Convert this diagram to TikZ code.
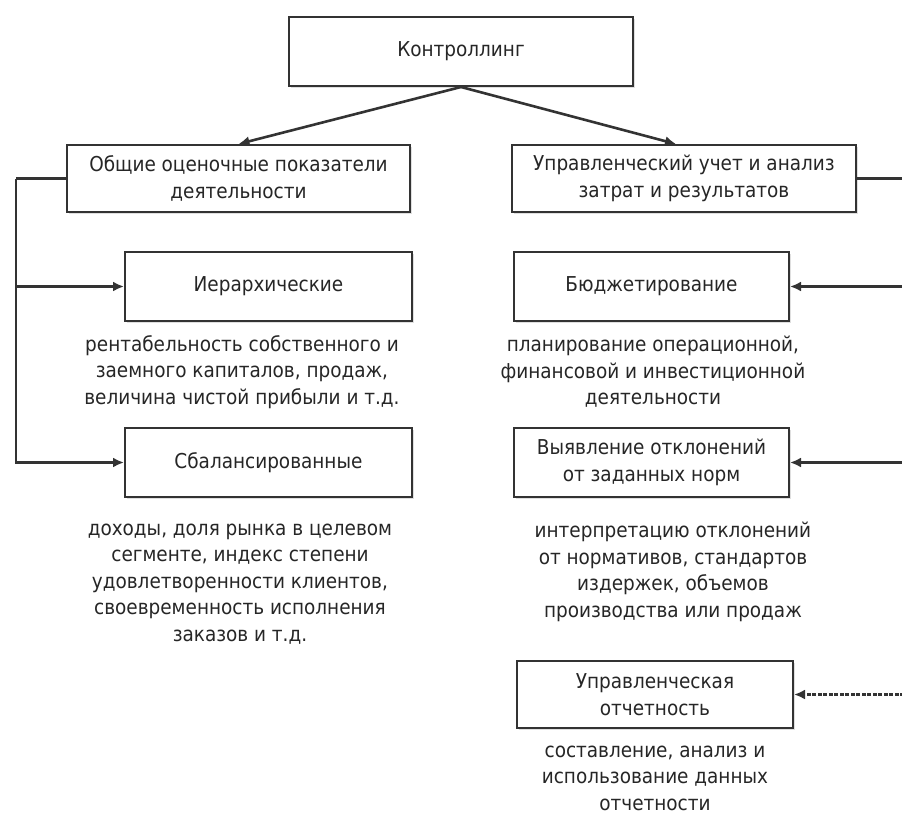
\documentclass[tikz,border=0pt]{standalone}
\usepackage{fontspec}
\setmainfont{DejaVu Sans Condensed}
\usepackage{tikz}
\usetikzlibrary{arrows.meta,shadows}

\begin{document}
\begin{tikzpicture}[x=1pt,y=-1pt]
  \tikzstyle{every node}=[font=\fontsize{20.5}{26.5}\selectfont, text=black!85, align=center]
  \tikzstyle{block}=[draw=black!80, line width=2pt, fill=white, inner sep=2pt,
    drop shadow={opacity=0.25, shadow xshift=2pt, shadow yshift=-2pt}]
  \useasboundingbox (0,0) rectangle (902,819);

  % Specification of nodes (position, etc.)
  \node[block, minimum width=344pt, minimum height=69pt] (Ctrl) at (461,51.5) {Контроллинг};
  \node[block, minimum width=343pt, minimum height=67pt] (General) at (238.5,178.5) {Общие оценочные показатели\\деятельности};
  \node[block, minimum width=344pt, minimum height=67pt] (Mgmt) at (684,178.5) {Управленческий учет и анализ\\затрат и результатов};
  \node[block, minimum width=287pt, minimum height=69pt] (Hier) at (268.5,286.5) {Иерархические};
  \node[block, minimum width=275pt, minimum height=69pt] (Budget) at (651.5,286.5) {Бюджетирование};
  \node[block, minimum width=287pt, minimum height=69pt] (Balanced) at (268.5,462.5) {Сбалансированные};
  \node[block, minimum width=275pt, minimum height=69pt] (Deviation) at (651.5,462.5) {Выявление отклонений\\от заданных норм};
  \node[block, minimum width=276pt, minimum height=67pt] (Report) at (655,694.5) {Управленческая\\отчетность};

  % descriptions under the boxes
  \node (HierText) at (242,372) {рентабельность собственного и\\заемного капиталов, продаж,\\величина чистой прибыли и т.д.};
  \node (BudgetText) at (653,372) {планирование операционной,\\финансовой и инвестиционной\\деятельности};
  \node (BalancedText) at (240,584) {доходы, доля рынка в целевом\\сегменте, индекс степени\\удовлетворенности клиентов,\\своевременность исполнения\\заказов и т.д.};
  \node (DeviationText) at (673,572) {интерпретацию отклонений\\от нормативов, стандартов\\издержек, объемов\\производства или продаж};
  \node (ReportText) at (655,778) {составление, анализ и\\использование данных\\отчетности};

  \coordinate (Left) at (16,178.5);
  \coordinate (Right) at (905,178.5);

  \begin{scope}[draw=black!80, line width=2.6pt, -{Latex[length=11pt,width=10pt]}]
    \draw (Ctrl.south) to (General.north);
    \draw (Ctrl.south) to ([xshift=-8pt]Mgmt.north);
    \draw[-] (General.west) -- (Left);
    \draw (Left) |- (Hier.west);
    \draw (Left) |- (Balanced.west);
    \draw[-] (Mgmt.east) -- (Right);
    \draw (Right) |- (Budget.east);
    \draw (Right) |- (Deviation.east);
    \draw[dash pattern=on 4pt off 1.5pt] (Right) |- (Report.east);
  \end{scope}
\end{tikzpicture}
\end{document}
